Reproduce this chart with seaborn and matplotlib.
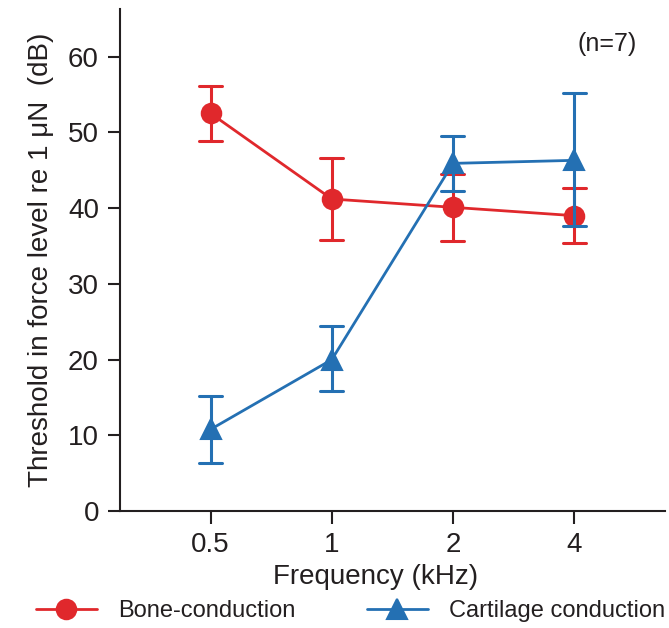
import matplotlib
matplotlib.use("Agg")
import matplotlib.pyplot as plt
import seaborn as sns
import numpy as np
import pandas as pd

# values
freqs = ["0.5", "1", "2", "4"]
bone_mean = [52.5, 41.2, 40.1, 39.0]
bone_low = [48.9, 35.8, 35.7, 35.4]
bone_high = [56.1, 46.6, 44.5, 42.6]
cart_mean = [10.8, 20.0, 45.9, 46.3]
cart_low = [6.4, 15.9, 42.3, 37.7]
cart_high = [15.2, 24.5, 49.5, 55.2]
series_names = ["Bone-conduction", "Cartilage conduction"]

INK = "#231f20"
RED = "#e0282c"
BLUE = "#2470b3"

rows = []
for name, lo, mid, hi in [(series_names[0], bone_low, bone_mean, bone_high),
                          (series_names[1], cart_low, cart_mean, cart_high)]:
    for f, a, b, c in zip(freqs, lo, mid, hi):
        for v in (a, b, c):
            rows.append({"freq": f, "thr": v, "kind": name})
df = pd.DataFrame(rows)

sns.set_theme(style="ticks")
plt.rcParams["font.family"] = ["Liberation Sans", "DejaVu Sans"]
plt.rcParams["text.color"] = INK
plt.rcParams["axes.labelcolor"] = INK
plt.rcParams["xtick.color"] = INK
plt.rcParams["ytick.color"] = INK

fig = plt.figure(figsize=(6.69, 6.28), dpi=100)
ax = fig.add_axes([0.179, 0.186, 0.815, 0.80])

sns.pointplot(data=df, x="freq", y="thr", hue="kind", order=freqs,
              hue_order=series_names, palette=[RED, BLUE],
              markers=["o", "^"], linestyles=["-", "-"],
              estimator="median", errorbar=lambda v: (v.min(), v.max()),
              capsize=0.19, err_kws={"linewidth": 2.2},
              markersize=14, linewidth=2.0, dodge=False, ax=ax)

ax.set_xlim(-0.75, 3.75)
ax.set_ylim(0, 66.3)
ax.set_yticks([0, 10, 20, 30, 40, 50, 60])
ax.set_xlabel("Frequency (kHz)", fontsize=20, labelpad=2)
ax.xaxis.set_label_coords(0.47, -0.105)
ax.set_ylabel("Threshold in force level re 1 μN  (dB)", fontsize=20, labelpad=10)
ax.tick_params(axis="both", labelsize=20, length=9, width=1.5, direction="out", pad=6)

for side in ["top", "right"]:
    ax.spines[side].set_visible(False)
for side in ["left", "bottom"]:
    ax.spines[side].set_color(INK)
    ax.spines[side].set_linewidth(1.5)

ax.text(0.894, 0.93, "(n=7)", transform=ax.transAxes, fontsize=18,
        ha="center", va="center", color=INK)

handles, labels = ax.get_legend_handles_labels()
if ax.get_legend() is not None:
    ax.get_legend().remove()
fig.legend(handles, labels, loc="center", bbox_to_anchor=(0.524, 0.027),
           ncol=2, frameon=False, fontsize=17, handlelength=2.6,
           columnspacing=3.0, handletextpad=0.9)

fig.savefig("out.png", dpi=100)
